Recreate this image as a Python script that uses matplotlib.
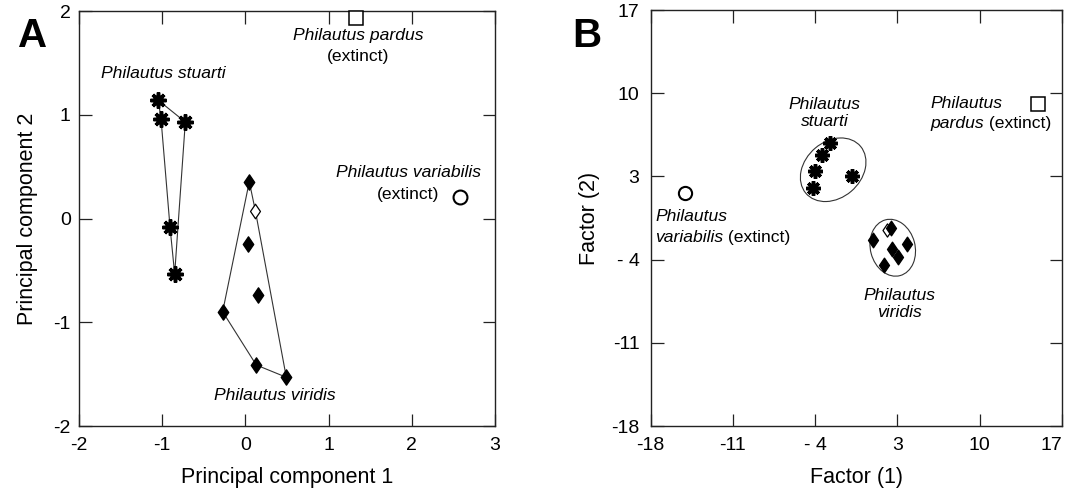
import matplotlib
matplotlib.use("Agg")
import matplotlib.pyplot as plt
from matplotlib.patches import Ellipse
from matplotlib.path import Path
import numpy as np

plt.rcParams['font.family'] = ['Liberation Sans', 'DejaVu Sans']
plt.rcParams['axes.unicode_minus'] = False

# ---- Panel A data (PCA) ----
a_stuarti_x = [-1.047, -1.014, -0.722, -0.906, -0.850]
a_stuarti_y = [1.14, 0.96, 0.93, -0.08, -0.535]
a_stuarti_hull = [0, 2, 4, 3, 1]          # polygon order (indices)
a_viridis_x = [0.047, 0.035, 0.155, -0.273, 0.131, 0.492]
a_viridis_y = [0.355, -0.243, -0.74, -0.898, -1.412, -1.53]
a_viridis_open = (0.12, 0.075)
a_viridis_hull_x = [0.047, 0.12, 0.492, 0.131, -0.273]
a_viridis_hull_y = [0.355, 0.075, -1.53, -1.412, -0.898]
a_pardus = (1.325, 1.93)
a_variabilis = (2.58, 0.21)

a_xticks = [-2, -1, 0, 1, 2, 3]
a_yticks = [-2, -1, 0, 1, 2]

# ---- Panel B data (factor analysis) ----
b_stuarti_x = [-2.75, -3.46, -4.03, -4.17, -0.91]
b_stuarti_y = [5.82, 4.78, 3.46, 2.06, 3.04]
b_viridis_x = [0.93, 2.43, 2.55, 3.85, 3.05, 1.86]
b_viridis_y = [-2.32, -1.37, -3.08, -2.66, -3.78, -4.42]
b_viridis_open = (2.07, -1.53)
b_pardus = (15.0, 9.08)
b_variabilis = (-15.06, 1.6)
b_ell_stuarti = dict(center=(-2.47, 3.56), width=6.1, height=4.75, angle=40)
b_ell_viridis = dict(center=(2.6, -3.0), width=4.85, height=3.8, angle=105)

b_ticks = [-18, -11, -4, 3, 10, 17]
b_ticklabels = ['-18', '-11', '- 4', '3', '10', '17']

# ---- markers ----
diamond = Path([(0, 1), (0.68, 0), (0, -1), (-0.68, 0), (0, 1)],
               [Path.MOVETO, Path.LINETO, Path.LINETO, Path.LINETO, Path.CLOSEPOLY])


def asterisk(ax, x, y, size):
    ax.plot(x, y, linestyle='none', marker=(8, 2, 0), markersize=size,
            markeredgewidth=2.5, color='black', zorder=4)
    ax.plot(x, y, linestyle='none', marker='o', markersize=size * 0.6,
            color='black', zorder=4)


fig = plt.figure(figsize=(10.66, 4.88), dpi=100)
axA = fig.add_axes([0.0741, 0.127, 0.3902, 0.8504])
axB = fig.add_axes([0.6104, 0.127, 0.3858, 0.8525])

TICKFS = 14
LABFS = 15.5
ANNFS = 12.6


def style(ax):
    for s in ax.spines.values():
        s.set_linewidth(1.0)
        s.set_color('#222222')
    ax.tick_params(direction='in', length=9, width=0.9, top=True, right=True,
                   labelsize=TICKFS, colors='#222222', labelcolor='black', pad=6)
    ax.tick_params(axis='x', pad=8)


# ---- Panel A ----
ax = axA
style(ax)
hx = [a_stuarti_x[i] for i in a_stuarti_hull] + [a_stuarti_x[a_stuarti_hull[0]]]
hy = [a_stuarti_y[i] for i in a_stuarti_hull] + [a_stuarti_y[a_stuarti_hull[0]]]
ax.plot(hx, hy, color='#333333', linewidth=0.8, zorder=2)
ax.plot(a_viridis_hull_x + [a_viridis_hull_x[0]], a_viridis_hull_y + [a_viridis_hull_y[0]],
        color='#333333', linewidth=0.8, zorder=2)
asterisk(ax, a_stuarti_x, a_stuarti_y, 11.5)
ax.plot(a_viridis_x, a_viridis_y, linestyle='none', marker=diamond, markersize=11,
        color='black', zorder=4)
ax.plot(*a_viridis_open, linestyle='none', marker=diamond, markersize=10.5,
        markerfacecolor='white', markeredgecolor='black', markeredgewidth=0.9, zorder=4)
ax.plot(*a_pardus, linestyle='none', marker='s', markersize=10.5,
        markerfacecolor='white', markeredgecolor='black', markeredgewidth=1.1, zorder=4,
        clip_on=False)
ax.plot(*a_variabilis, linestyle='none', marker='o', markersize=10,
        markerfacecolor='white', markeredgecolor='black', markeredgewidth=1.5, zorder=4)

ax.set_xlim(-2, 3)
ax.set_ylim(-2, 2)
ax.set_xticks(a_xticks)
ax.set_yticks(a_yticks)
ax.set_xlabel('Principal component 1', fontsize=LABFS, labelpad=9)
ax.set_ylabel('Principal component 2', fontsize=LABFS, labelpad=11)

ax.text(-0.99, 1.40, 'Philautus stuarti', style='italic', fontsize=ANNFS, ha='center', va='center')
ax.text(1.353, 1.76, 'Philautus pardus', style='italic', fontsize=ANNFS, ha='center', va='center')
ax.text(1.353, 1.557, '(extinct)', fontsize=ANNFS, ha='center', va='center')
ax.text(1.955, 0.44, 'Philautus variabilis', style='italic', fontsize=ANNFS, ha='center', va='center')
ax.text(1.955, 0.227, '(extinct)', fontsize=ANNFS, ha='center', va='center')
ax.text(0.356, -1.708, 'Philautus viridis', style='italic', fontsize=ANNFS, ha='center', va='center')

fig.text(33 / 1066, 1 - 36 / 488, 'A', fontsize=29, fontweight='bold', ha='center', va='center')

# ---- Panel B ----
ax = axB
style(ax)
for e in (b_ell_stuarti, b_ell_viridis):
    ax.add_patch(Ellipse(e['center'], e['width'], e['height'], angle=e['angle'],
                         fill=False, edgecolor='#333333', linewidth=0.8, zorder=2))
asterisk(ax, b_stuarti_x, b_stuarti_y, 10.5)
ax.plot(b_viridis_x, b_viridis_y, linestyle='none', marker=diamond, markersize=10.5,
        color='black', zorder=4)
ax.plot(*b_viridis_open, linestyle='none', marker=diamond, markersize=9.5,
        markerfacecolor='white', markeredgecolor='black', markeredgewidth=0.9, zorder=3)
ax.plot(*b_pardus, linestyle='none', marker='s', markersize=10.5,
        markerfacecolor='white', markeredgecolor='black', markeredgewidth=1.1, zorder=4)
ax.plot(*b_variabilis, linestyle='none', marker='o', markersize=9.5,
        markerfacecolor='white', markeredgecolor='black', markeredgewidth=1.5, zorder=4)

ax.set_xlim(-18, 17)
ax.set_ylim(-18, 17)
ax.set_xticks(b_ticks)
ax.set_xticklabels(b_ticklabels)
ax.set_yticks(b_ticks)
ax.set_yticklabels(b_ticklabels)
ax.get_xticklabels()[-1].set_horizontalalignment('right')
ax.tick_params(axis='y', pad=8)
ax.set_xlabel('Factor (1)', fontsize=LABFS, labelpad=9)
ax.set_ylabel('Factor (2)', fontsize=LABFS, labelpad=8)

ax.text(-3.18, 8.32, 'Philautus\nstuarti', style='italic', fontsize=ANNFS, ha='center',
        va='center', linespacing=1.2)
ax.text(5.81, 9.17, 'Philautus', style='italic', fontsize=ANNFS, ha='left', va='center')
t = ax.text(5.81, 7.48, 'pardus', style='italic', fontsize=ANNFS, ha='left', va='center')
ax.annotate(' (extinct)', xy=(1, 0), xycoords=t, fontsize=ANNFS, ha='left', va='bottom')
ax.text(-17.63, -0.35, 'Philautus', style='italic', fontsize=ANNFS, ha='left', va='center')
t = ax.text(-17.63, -2.12, 'variabilis', style='italic', fontsize=ANNFS, ha='left', va='center')
ax.annotate(' (extinct)', xy=(1, 0), xycoords=t, fontsize=ANNFS, ha='left', va='bottom')
ax.text(3.19, -7.72, 'Philautus\nviridis', style='italic', fontsize=ANNFS, ha='center',
        va='center', linespacing=1.2)

fig.text(586.7 / 1066, 1 - 36 / 488, 'B', fontsize=29, fontweight='bold', ha='center', va='center')

fig.savefig('out.png', dpi=100)
